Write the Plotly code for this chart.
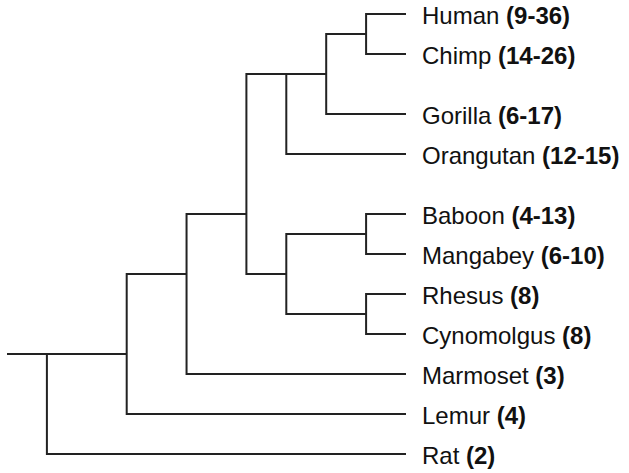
import plotly.graph_objects as go

# Leaves (top to bottom) and their bracketed ranges
leaves = ["Human", "Chimp", "Gorilla", "Orangutan", "Baboon", "Mangabey",
          "Rhesus", "Cynomolgus", "Marmoset", "Lemur", "Rat"]
ranges = ["9-36", "14-26", "6-17", "12-15", "4-13", "6-10",
          "8", "8", "3", "4", "2"]
leaf_rows = [0, 2, 5, 7, 10, 12, 14, 16, 18, 20, 22]
leaf_depth = 10

# Internal nodes: name -> (children, depth, row)
node_names = ["A", "B", "C", "D", "E", "F", "G", "H", "I", "J"]
node_children = [["Human", "Chimp"], ["A", "Gorilla"], ["B", "Orangutan"],
                 ["Baboon", "Mangabey"], ["Rhesus", "Cynomolgus"], ["D", "E"],
                 ["C", "F"], ["G", "Marmoset"], ["H", "Lemur"], ["I", "Rat"]]
node_depths = [9, 8, 7, 9, 9, 7, 6, 4.5, 3, 1]
node_rows = [1, 3, 3, 11, 15, 13, 10, 13, 17, 17]
root = "J"
root_stem_start = 0

pos = {}
for n, r in zip(leaves, leaf_rows):
    pos[n] = (leaf_depth, r)
for n, d, r in zip(node_names, node_depths, node_rows):
    pos[n] = (d, r)

xs, ys = [], []
for n, ch, d in zip(node_names, node_children, node_depths):
    c1, c2 = ch
    x1, y1 = pos[c1]
    x2, y2 = pos[c2]
    xs += [x1, d, d, x2, None]
    ys += [y1, y1, y2, y2, None]
# root stem
rx, ry = pos[root]
xs += [root_stem_start, rx, None]
ys += [ry, ry, None]

fig = go.Figure()
fig.add_trace(go.Scatter(x=xs, y=ys, mode="lines",
                         line=dict(color="#222222", width=2),
                         hoverinfo="skip", showlegend=False))

annotations = []
for n, rg, r in zip(leaves, ranges, leaf_rows):
    annotations.append(dict(
        x=leaf_depth, y=r, xref="x", yref="y",
        text=f"{n} <b>({rg})</b>", showarrow=False,
        xanchor="left", yanchor="middle", xshift=14, yshift=-1,
        font=dict(family="Liberation Sans, Arial, sans-serif", size=24, color="#111111"),
    ))

fig.update_layout(
    width=629, height=473,
    margin=dict(l=0, r=0, t=0, b=0),
    paper_bgcolor="white", plot_bgcolor="white",
    xaxis=dict(range=[-7 / 39.9, 622 / 39.9], visible=False, showgrid=False, zeroline=False),
    yaxis=dict(range=[22.95, -0.7], visible=False, showgrid=False, zeroline=False),
    annotations=annotations,
    showlegend=False,
)

fig.write_html("out.html", config={"displayModeBar": False},
               post_script="document.body.style.margin='0';document.body.style.overflow='hidden';")
